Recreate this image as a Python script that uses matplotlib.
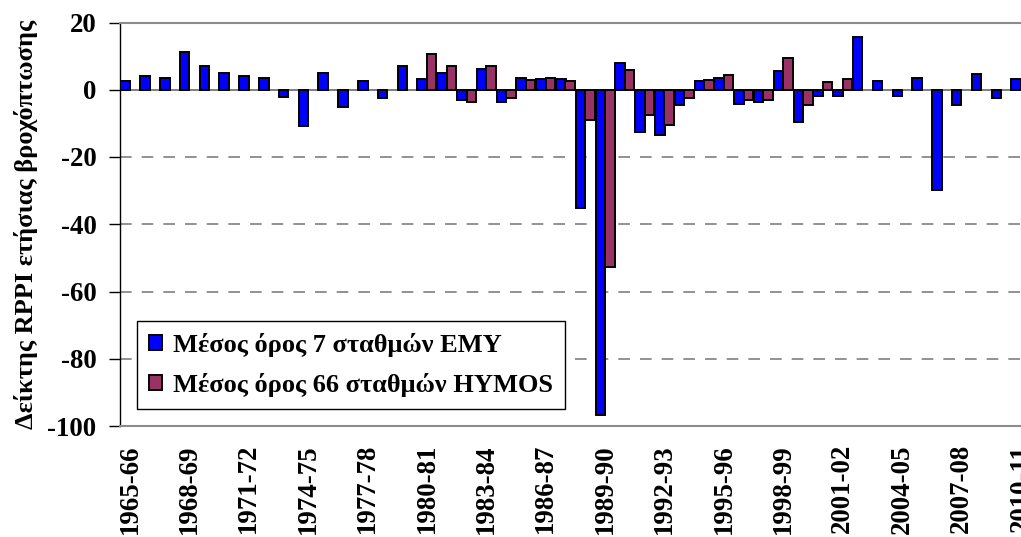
import matplotlib
matplotlib.use("Agg")
import matplotlib.pyplot as plt
import numpy as np

years = [f"{y}-{str(y + 1)[-2:]}" for y in range(1965, 2011)]

emy = [2.6, 4.2, 3.6, 11.2, 7.1, 5.1, 4.2, 3.6, -2.1, -10.7,
       5.1, -5.0, 2.6, -2.6, 7.1, 3.2, 5.1, -3.0, 6.1, -3.5,
       3.5, 3.1, 3.1, -35.2, -96.6, 8.1, -12.5, -13.5, -4.5, 2.5,
       3.5, -4.1, -3.6, 5.5, -9.7, -2.0, -2.0, 15.6, 2.6, -2.0,
       3.6, -29.8, -4.5, 4.6, -2.5, 3.1]

hymos_start = 15
hymos = [10.6, 7.0, -3.5, 7.0, -2.5, 3.0, 3.5, 2.5, -9.0, -52.8,
         6.0, -7.5, -10.5, -2.5, 3.0, 4.5, -3.0, -3.0, 9.5, -4.5,
         2.2, 3.1]

label_emy = "Μέσος όρος 7 σταθμών EMY"
label_hymos = "Μέσος όρος 66 σταθμών HYMOS"
ylabel = "Δείκτης RPPI ετήσιας βροχόπτωσης"
yticks = [20, 0, -20, -40, -60, -80, -100]

plt.rcParams['font.family'] = ['Liberation Serif', 'DejaVu Serif']
plt.rcParams['font.weight'] = 'bold'

FS = 19.4

fig = plt.figure(figsize=(10.21, 5.37), dpi=100)
W, H = 1021, 537
ax_l, ax_r, ax_t, ax_b = 120, 1030.8, 22.5, 426
ax = fig.add_axes([ax_l / W, (H - ax_b) / H, (ax_r - ax_l) / W, (ax_b - ax_t) / H])

x = np.arange(len(years))
xh = np.arange(hymos_start, hymos_start + len(hymos))
bw = 0.48
ax.bar(x - bw / 2, emy, width=bw, color='#0000FF', edgecolor='black', linewidth=1.4,
       label=label_emy, zorder=3)
ax.bar(xh + bw / 2, hymos, width=bw, color='#993366', edgecolor='black', linewidth=1.4,
       label=label_hymos, zorder=3)

ax.set_xlim(-0.5, len(years) - 0.5)
ax.set_ylim(-100, 20)
ax.set_yticks(yticks)
ax.set_yticklabels([str(v) for v in yticks], fontsize=FS, fontweight='bold')

for v in yticks[2:-1]:
    ax.axhline(v, color='#7f7f7f', linewidth=1.2, linestyle=(0, (7, 6)), zorder=1)
ax.axhline(0, color='#6a6a6a', linewidth=1.2, zorder=2)

ax.set_xticks(x[::3])
ax.set_xticklabels(years[::3], rotation=90, fontsize=FS, fontweight='bold')
ax.tick_params(axis='x', length=0, pad=13)
ax.tick_params(axis='y', length=8, width=1, direction='out', pad=9, color='black')

ax.spines['left'].set_color('black')
ax.spines['left'].set_linewidth(1.0)
for s in ['top', 'bottom']:
    ax.spines[s].set_color('#8c8c8c')
    ax.spines[s].set_linewidth(1.5)
ax.spines['right'].set_visible(False)

ax.set_ylabel(ylabel, fontsize=19, fontweight='bold', labelpad=7)

leg = ax.legend(loc='lower left', bbox_to_anchor=(0.0187, 0.042), borderaxespad=0,
                prop={'size': 19, 'weight': 'bold'}, frameon=True, fancybox=False,
                framealpha=1, edgecolor='black', handlelength=0.5, handleheight=0.5,
                handletextpad=0.4, borderpad=0.45, labelspacing=0.6)
leg.get_frame().set_linewidth(1.0)

fig.savefig('out.png', dpi=100)
